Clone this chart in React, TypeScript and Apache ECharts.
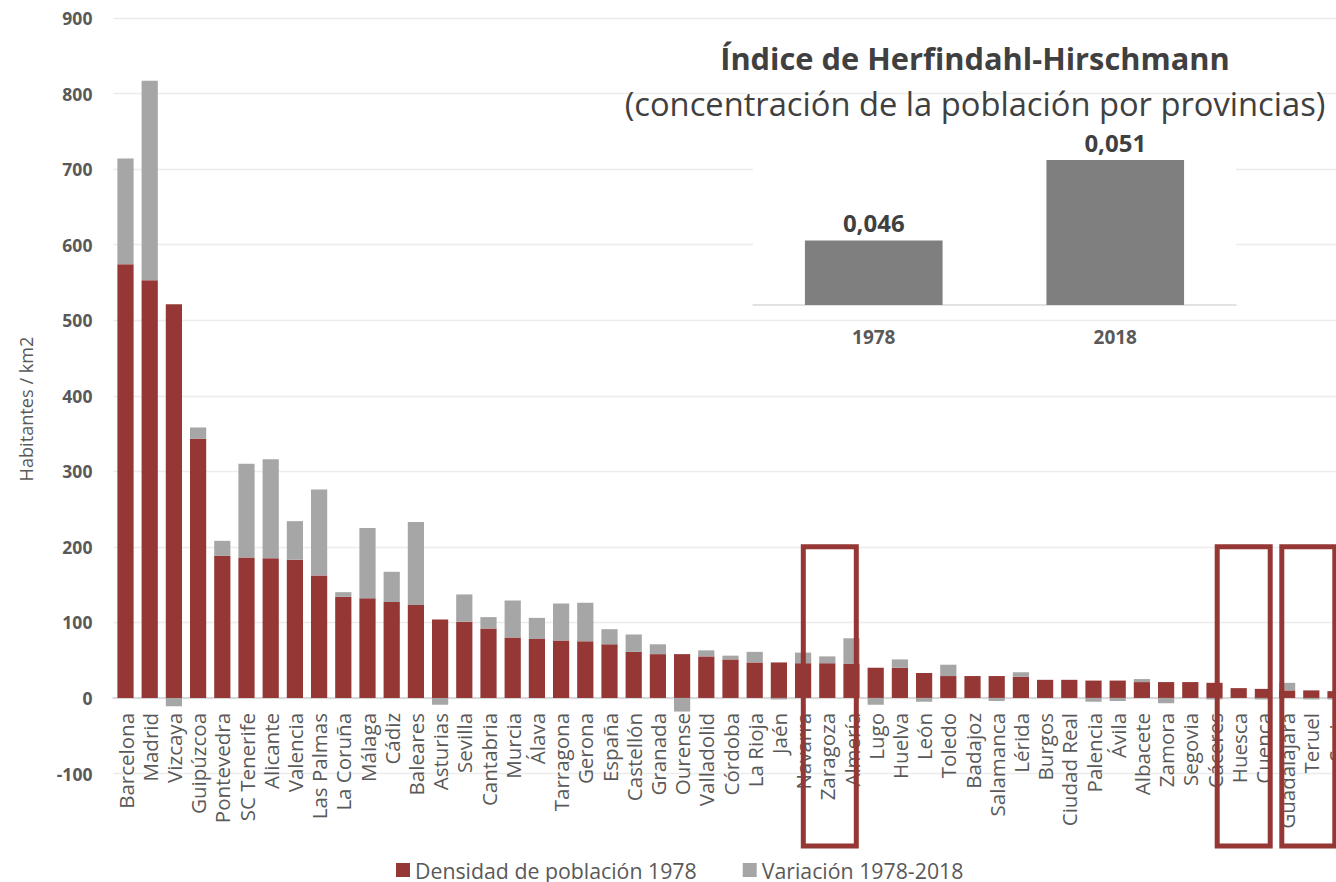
import React, { useEffect, useRef } from "react";
import * as echarts from "echarts";

const provinces = [
  "Barcelona", "Madrid", "Vizcaya", "Guipúzcoa", "Pontevedra", "SC Tenerife", "Alicante", "Valencia",
  "Las Palmas", "La Coruña", "Málaga", "Cádiz", "Baleares", "Asturias", "Sevilla", "Cantabria",
  "Murcia", "Álava", "Tarragona", "Gerona", "España", "Castellón", "Granada", "Ourense",
  "Valladolid", "Córdoba", "La Rioja", "Jaén", "Navarra", "Zaragoza", "Almería", "Lugo",
  "Huelva", "León", "Toledo", "Badajoz", "Salamanca", "Lérida", "Burgos", "Ciudad Real",
  "Palencia", "Ávila", "Albacete", "Zamora", "Segovia", "Cáceres", "Huesca", "Cuenca",
  "Guadalajara", "Teruel", "Soria",
];

const density1978 = [
  574, 553, 521, 343, 188, 186, 185, 183,
  162, 134, 132, 127, 123, 104, 101, 92,
  80, 78, 76, 75, 71, 61, 58, 58,
  55, 51, 47, 47, 46, 46, 45, 40,
  40, 33, 29, 29, 29, 28, 24, 24,
  23, 23, 21, 21, 21, 20, 13, 12,
  10, 10, 9,
];

const variation19782018 = [
  140, 264, -11, 15, 20, 124, 131, 51,
  114, 6, 93, 40, 110, -9, 36, 15,
  49, 28, 49, 51, 20, 23, 13, -18,
  8, 5, 14, -2, 14, 9, 34, -9,
  11, -5, 15, 0, -4, 6, 0, 0,
  -5, -4, 4, -7, 0, -2, 0, -2,
  10, -2, -2,
];

const hhiYears = ["1978", "2018"];
const hhiValues = [0.046, 0.051];

const highlighted = ["Zaragoza", "Huesca", "Teruel"];
const highlightShift = [2.5, 5, -3];

const SERIES_A = "Densidad de población 1978";
const SERIES_B = "Variación 1978-2018";
const TITLE = "Índice de Herfindahl-Hirschmann";
const SUBTITLE = "(concentración de la población por provincias)";
const Y_NAME = "Habitantes / km2";

const FAMILY = '"Open Sans", "Noto Sans", sans-serif';
const RED = "#953735";
const GREY = "#a6a6a6";
const TEXT = "#595959";

function fitFontSize(text: string, weight: string, target: number): number {
  const base = 20;
  const ctx = document.createElement("canvas").getContext("2d");
  if (!ctx) return base;
  ctx.font = `${weight} ${base}px "Open Sans"`;
  const w = ctx.measureText(text).width;
  return w > 0 ? (base * target) / w : base;
}

export default function App() {
  const ref = useRef<HTMLDivElement>(null);

  useEffect(() => {
    if (!ref.current) return;
    const chart = echarts.init(ref.current, null, { renderer: "svg" });

    const xLabelSize = fitFontSize("Barcelona", "normal", 96);
    const legendSize = fitFontSize(SERIES_A, "normal", 282);
    const titleSize = fitFontSize(TITLE, "bold", 510);
    const subSize = fitFontSize(SUBTITLE, "normal", 701);
    const yNameSize = fitFontSize(Y_NAME, "normal", 145);

    const gridTop = 18;
    const gridBottom = 108.5;

    chart.setOption({
      animation: false,
      backgroundColor: "#ffffff",
      textStyle: { fontFamily: FAMILY },
      grid: [
        { left: 113.4, right: -11.6, top: gridTop, bottom: gridBottom, containLabel: false, outerBoundsMode: "none" },
        { left: 753, width: 483, top: 144, height: 161, containLabel: false, outerBoundsMode: "none" },
      ],
      legend: {
        data: [SERIES_A, SERIES_B],
        left: 396,
        top: 859,
        icon: "rect",
        itemWidth: 14,
        itemHeight: 14,
        itemGap: 46,
        padding: 0,
        textStyle: { fontSize: legendSize, color: TEXT, fontFamily: FAMILY, lineHeight: 22 },
      },
      xAxis: [
        {
          type: "category",
          gridIndex: 0,
          data: provinces,
          axisLine: { onZero: true, lineStyle: { color: "#d9d9d9", width: 2 } },
          axisTick: { show: false },
          axisLabel: {
            rotate: 90,
            interval: 0,
            margin: 15,
            fontSize: xLabelSize,
            color: TEXT,
            fontFamily: FAMILY,
          },
        },
        {
          type: "category",
          gridIndex: 1,
          data: hhiYears,
          axisLine: { lineStyle: { color: "#d9d9d9", width: 1.5 } },
          axisTick: { show: false },
          axisLabel: { margin: 22, fontSize: 19, fontWeight: "bold", color: TEXT, fontFamily: FAMILY },
        },
      ],
      yAxis: [
        {
          type: "value",
          gridIndex: 0,
          min: -100,
          max: 900,
          interval: 100,
          axisLine: { show: false },
          axisTick: { show: false },
          axisLabel: { margin: 21, fontSize: 17.5, fontWeight: "bold", color: TEXT, fontFamily: FAMILY },
          splitLine: { lineStyle: { color: "#ececec", width: 1.3 } },
        },
        {
          type: "value",
          gridIndex: 1,
          min: 0.042,
          max: 0.052,
          show: false,
          splitLine: { show: false },
        },
      ],
      series: [
        {
          name: SERIES_A,
          type: "bar",
          stack: "density",
          xAxisIndex: 0,
          yAxisIndex: 0,
          barCategoryGap: "33%",
          itemStyle: { color: RED },
          data: density1978,
          z: 2,
        },
        {
          name: SERIES_B,
          type: "bar",
          stack: "density",
          xAxisIndex: 0,
          yAxisIndex: 0,
          barCategoryGap: "33%",
          itemStyle: { color: GREY },
          data: variation19782018,
          z: 2,
        },
        {
          name: "HHI",
          type: "bar",
          xAxisIndex: 1,
          yAxisIndex: 1,
          barCategoryGap: "43%",
          itemStyle: { color: "#7f7f7f" },
          data: hhiValues,
          z: 3,
          label: {
            show: true,
            position: "top",
            distance: 6,
            fontSize: 24,
            fontWeight: "bold",
            color: "#404040",
            fontFamily: FAMILY,
            formatter: (p: any) => Number(p.value).toFixed(3).replace(".", ","),
          },
        },
      ],
    });

    // Place the category labels just under the zero line (as in the original)
    const zeroY = chart.convertToPixel({ yAxisIndex: 0 }, 0) as number;
    const bottomY = chart.convertToPixel({ yAxisIndex: 0 }, -100) as number;
    chart.setOption({
      xAxis: [{ axisLabel: { margin: zeroY + 15 - bottomY } }, {}],
    });

    const yTop = chart.convertToPixel({ yAxisIndex: 0 }, 200) as number;
    const boxes = highlighted.map((cat, i) => {
      const cx = (chart.convertToPixel({ xAxisIndex: 0 }, cat) as number) + highlightShift[i];
      return {
        type: "rect",
        z: 20,
        shape: { x: cx - 26.5, y: yTop, width: 53, height: 846 - yTop },
        style: { fill: "none", stroke: RED, lineWidth: 5 },
      };
    });

    chart.setOption({
      graphic: [
        {
          type: "rect",
          z: 1,
          shape: { x: 753, y: 128, width: 483, height: 176 },
          style: { fill: "#ffffff" },
        },
        {
          type: "text",
          z: 20,
          x: 975,
          y: 58,
          style: {
            text: TITLE,
            fontSize: titleSize,
            fontWeight: "bold",
            fontFamily: FAMILY,
            fill: "#404040",
            align: "center",
            verticalAlign: "middle",
          },
        },
        {
          type: "text",
          z: 20,
          x: 975,
          y: 103,
          style: {
            text: SUBTITLE,
            fontSize: subSize,
            fontFamily: FAMILY,
            fill: "#404040",
            align: "center",
            verticalAlign: "middle",
          },
        },
        {
          type: "text",
          z: 20,
          x: 26,
          y: 409,
          rotation: Math.PI / 2,
          style: {
            text: Y_NAME,
            fontSize: yNameSize,
            fontFamily: FAMILY,
            fill: TEXT,
            align: "center",
            verticalAlign: "middle",
          },
        },
        ...boxes,
      ],
    });

    return () => chart.dispose();
  }, []);

  return (
    <div
      ref={ref}
      style={{ position: "fixed", left: 0, top: 0, width: 1336, height: 882, background: "#fff" }}
    />
  );
}
